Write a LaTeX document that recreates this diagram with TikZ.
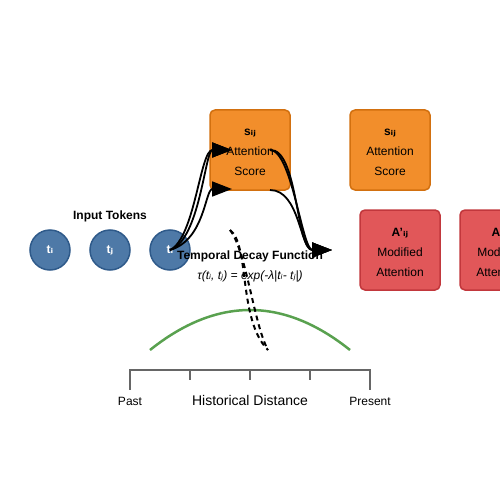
\documentclass[tikz,border=0pt]{standalone}
\usepackage{fontspec}
\setmainfont{Liberation Sans}
\newfontfamily\dvfont{DejaVu Sans}
\usetikzlibrary{arrows.meta}
\newcommand{\subi}{{\dvfont ᵢ}}
\newcommand{\subj}{{\dvfont ⱼ}}
\definecolor{tokfill}{HTML}{4E79A7}
\definecolor{tokline}{HTML}{2F5A8A}
\definecolor{scfill}{HTML}{F28E2B}
\definecolor{scline}{HTML}{D2700F}
\definecolor{modfill}{HTML}{E15759}
\definecolor{modline}{HTML}{C2373C}
\definecolor{curvegreen}{HTML}{59A14F}
\definecolor{axisgray}{HTML}{666666}
\begin{document}
\begin{tikzpicture}[x=1pt,y=-1pt,
  token/.style={circle,draw=tokline,fill=tokfill,line width=1.5pt,minimum size=40pt,inner sep=0pt,text=white,font=\fontsize{12}{14}\selectfont\bfseries},
  scorebox/.style={draw=scline,fill=scfill,line width=1.5pt,rounded corners=5pt,minimum width=80pt,minimum height=80pt,inner sep=0pt},
  modbox/.style={draw=modline,fill=modfill,line width=1.5pt,rounded corners=5pt,minimum width=80pt,minimum height=80pt,inner sep=0pt},
  boxtext/.style={align=center,inner sep=0pt,font=\fontsize{12}{20}\selectfont},
  flow/.style={line width=1.8pt,-{Triangle[length=20pt,width=15pt]}},
  decay/.style={line width=2pt,dash pattern=on 5pt off 4pt},
  lbl/.style={inner sep=0pt,font=\fontsize{12}{14}\selectfont},
  tick/.style={draw=axisgray,line width=2pt}
]
\useasboundingbox (0,0) rectangle (500,500);
\begin{scope}
\clip (0,0) rectangle (500,500);
% tokens
\node[lbl,font=\fontsize{12}{14}\selectfont\bfseries] (intok) at (110,216) {Input Tokens};
\node[token] (t1) at (50,250) {t\subi};
\node[token] (t2) at (110,250) {t\subj};
\node[token] (t3) at (170,250) {t\subi};
% score boxes
\node[scorebox] (s1) at (250,150) {};
\node[boxtext] (s1t) at (250,152) {\textbf{s\subi\subj}\\Attention\\Score};
\node[scorebox] (s2) at (390,150) {};
\node[boxtext] (s2t) at (390,152) {\textbf{s\subi\subj}\\Attention\\Score};
% modified boxes
\node[modbox] (m1) at (400,250) {};
\node[boxtext] (m1t) at (400,252) {\textbf{A'\subi\subj}\\Modified\\Attention};
\node[modbox] (m2) at (500,250) {};
\node[boxtext] (m2t) at (500,252) {\textbf{A'\subi\subj}\\Modified\\Attention};
% arrow endpoints
\coordinate (a1) at (232,150);
\coordinate (a2) at (232,189);
\coordinate (b1) at (270,150);
\coordinate (b2) at (270,190);
\coordinate (c1) at (332,250);
% flows into score
\draw[flow] (t3.center) .. controls (195,238) and (200,150) .. (a1);
\draw[flow] (t3.center) .. controls (200,240) and (205,150) .. (a1);
\draw[flow] (t3.center) .. controls (205,240) and (205,189) .. (a2);
% flows out of score
\draw[flow] (b1) .. controls (292,150) and (302,250) .. (c1);
\draw[flow] (b1) .. controls (298,148) and (296,250) .. (c1);
\draw[flow] (b2) .. controls (300,190) and (300,250) .. (c1);
% decay curve
\draw[curvegreen,line width=2.5pt] (150,350) .. controls (216.67,296.67) and (283.33,296.67) .. (350,350);
% dashed decay links
\coordinate (d0) at (230,230);
\coordinate (d1) at (268,350);
\draw[decay] (d0) .. controls (250,245) and (238,320) .. (d1);
\draw[decay] (d0) .. controls (246,250) and (254,325) .. (d1);
% labels
\node[lbl,font=\fontsize{12}{14}\selectfont\bfseries] (tdf) at (250,256) {Temporal Decay Function};
\node[lbl,font=\fontsize{12}{14}\selectfont\itshape] (formula) at (250,276) {τ(t\subi, t\subj) = exp(-λ|t\subi - t\subj|)};
% axis
\coordinate (x0) at (130,370);
\coordinate (x4) at (370,370);
\draw[tick] (x0) -- (x4);
\draw[tick] (130,369) -- (130,390);
\draw[tick] (190,369) -- (190,380);
\draw[tick] (250,369) -- (250,380);
\draw[tick] (310,369) -- (310,380);
\draw[tick] (370,369) -- (370,390);
\node[lbl] (past) at (130,401) {Past};
\node[lbl,font=\fontsize{14}{16}\selectfont] (hist) at (250,400) {Historical Distance};
\node[lbl] (present) at (370,401) {Present};
\end{scope}
\end{tikzpicture}
\end{document}
